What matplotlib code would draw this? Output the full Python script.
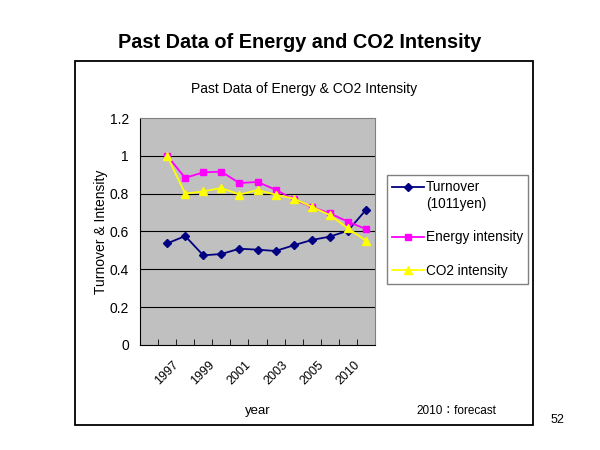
import numpy as np
import matplotlib
matplotlib.use("Agg")
import matplotlib.pyplot as plt
from matplotlib.patches import Rectangle

plt.rcParams.update({
    "font.family": ["Liberation Sans", "DejaVu Sans"],
    "font.size": 10,
})

# ---- data ----
positions = np.arange(1, 13)          # category slots, slot 0 is empty
tick_pos = [1, 3, 5, 7, 9, 11]
tick_labels = ["1997", "1999", "2001", "2003", "2005", "2010"]

turnover = [0.537, 0.576, 0.474, 0.481, 0.509, 0.504, 0.497, 0.527, 0.555, 0.573, 0.604, 0.714]
energy = [1.001, 0.883, 0.913, 0.916, 0.856, 0.862, 0.821, 0.770, 0.730, 0.696, 0.652, 0.613]
co2 = [1.000, 0.800, 0.812, 0.830, 0.795, 0.819, 0.795, 0.774, 0.731, 0.687, 0.617, 0.552]

W, H = 600, 450
fig = plt.figure(figsize=(6, 4.5), dpi=100)

def fx(px):
    return px / W

def fy(py):
    return 1 - py / H

# slide title + outer chart frame
fig.text(0.5, fy(42), "Past Data of Energy and CO2 Intensity", ha="center", va="center",
         fontsize=14.3, fontweight="bold")
fig.patches.append(Rectangle((fx(75), fy(425)), fx(533) - fx(75), fy(61) - fy(425),
                             transform=fig.transFigure, fill=False, edgecolor="black", lw=1.3))
fig.text(fx(304), fy(89), "Past Data of Energy & CO2 Intensity", ha="center", va="center", fontsize=10)

ax = fig.add_axes([fx(140), fy(345), fx(375) - fx(140), fy(118) - fy(345)])
ax.set_facecolor("#C0C0C0")
ax.set_xlim(0, 13)
ax.set_ylim(0, 1.2)
ax.set_yticks(np.arange(0, 1.21, 0.2))
ax.set_yticklabels(["0", "0.2", "0.4", "0.6", "0.8", "1", "1.2"], fontsize=10)
for yv in np.arange(0.2, 1.01, 0.2):
    ax.axhline(yv, color="black", lw=0.8, zorder=1)

ax.set_xticks(np.arange(0, 14), minor=True)
ax.set_xticks([p + 1.05 for p in tick_pos])
ax.set_xticklabels(tick_labels, rotation=45, ha="right", va="center",
                   rotation_mode="anchor", fontsize=9)
ax.tick_params(axis="x", which="major", length=0, pad=13)
ax.tick_params(axis="x", which="minor", length=4, direction="in")
ax.tick_params(axis="y", length=0, pad=8)
for s in ax.spines.values():
    s.set_color("#808080")
ax.spines["left"].set_color("black")
ax.spines["bottom"].set_color("black")

xs = positions + 0.5
ax.plot(xs, turnover, color="#000080", marker="D", ms=4.5, lw=1.3, label="Turnover\n(1011yen)", zorder=3)
ax.plot(xs, energy, color="#FF00FF", marker="s", ms=5, lw=1.3, label="Energy intensity", zorder=3)
ax.plot(xs, co2, color="#FFFF00", marker="^", ms=6, lw=1.3, label="CO2 intensity", zorder=4)

ax.set_ylabel("Turnover & Intensity", fontsize=10, labelpad=1)

leg = fig.legend(loc="upper left", bbox_to_anchor=(fx(387), fy(175)), frameon=True, fancybox=False,
                 edgecolor="#606060", fontsize=9.8, handlelength=2.3, handletextpad=0.15,
                 labelspacing=1.45, borderpad=0.4, borderaxespad=0)
leg.get_frame().set_linewidth(1.0)
# put the turnover sample level with the first text line, as on the slide
h0 = leg.legend_handles[0]
h0.set_ydata(np.asarray(h0.get_ydata()) + 6.5)

fig.text(fx(258), fy(411), "year", ha="center", va="center", fontsize=9.5)
fig.text(fx(456), fy(411), "2010：forecast", ha="center", va="center", fontsize=8.5,
         family=["Liberation Sans", "Noto Sans CJK JP"])
fig.text(fx(557), fy(420), "52", ha="center", va="center", fontsize=9)

fig.savefig("out.png", dpi=100)
